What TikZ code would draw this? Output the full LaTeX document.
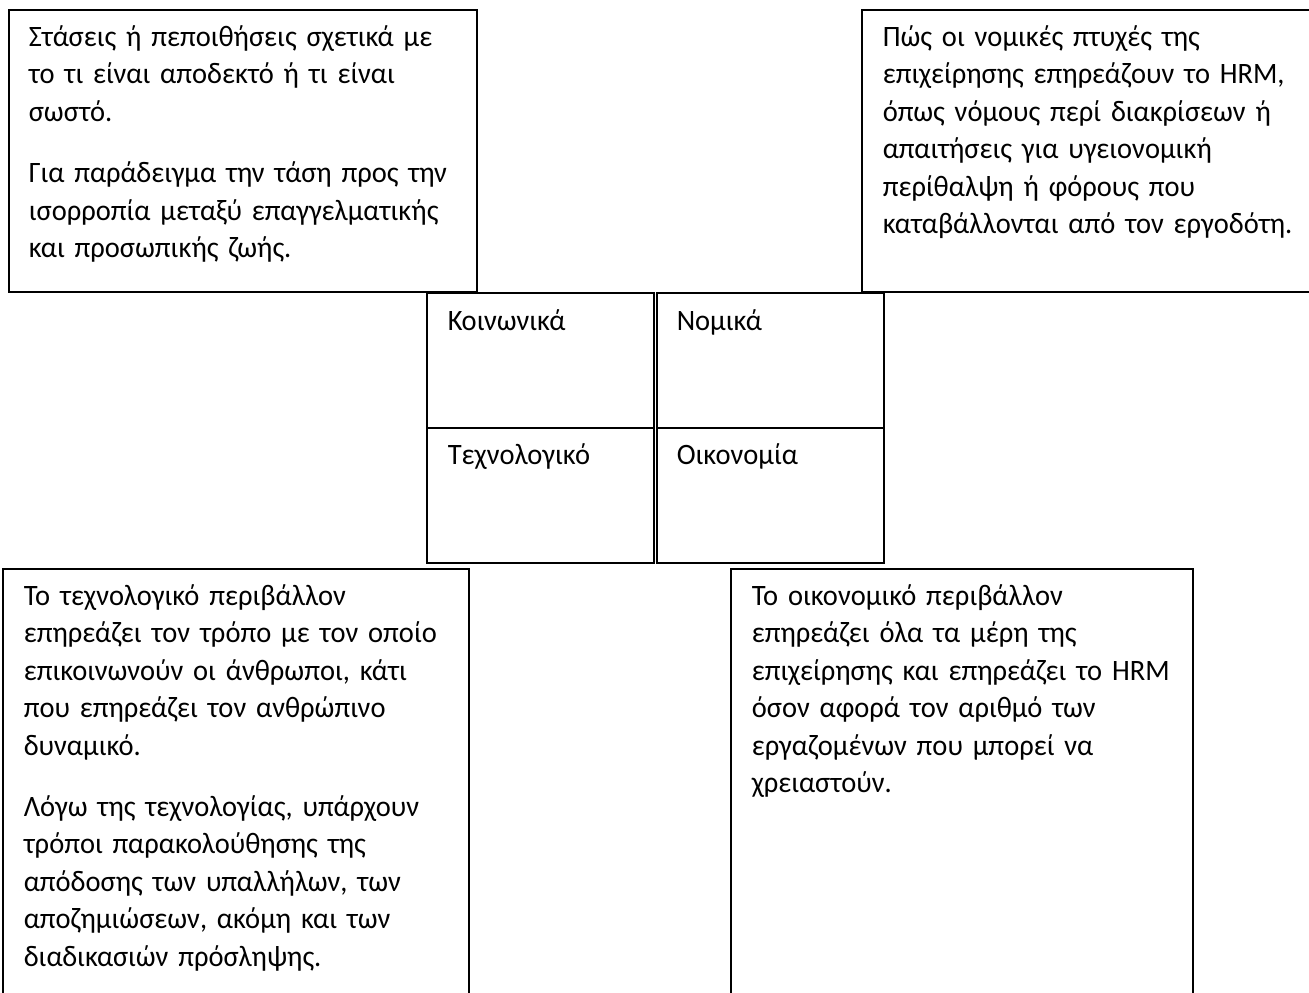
\documentclass[tikz,border=0pt]{standalone}
\usepackage{fontspec}
\setmainfont{Carlito}[FakeStretch=0.963]
\usetikzlibrary{fit}

\begin{document}
\begin{tikzpicture}[x=0.5pt,y=-0.5pt,
    box/.style={draw,line width=0.6pt,inner sep=0pt},
    txt/.style={anchor=base west,inner sep=0pt,text width=225pt,align=left,
        font=\fontsize{14.8}{18.7}\selectfont}]
\useasboundingbox (0,0) rectangle (1309,992);

% the four cells in the middle
\node (soc) [box,fit={(427,293) (654,428)}] {};
\node (leg) [box,fit={(657,293) (884,428)}] {};
\node (tec) [box,fit={(427,428) (654,563)}] {};
\node (eco) [box,fit={(657,428) (884,563)}] {};
\node (soct) [txt] at ([shift={(21,38)}]soc.north west) {Κοινωνικά};
\node (legt) [txt] at ([shift={(20,38)}]leg.north west) {Νομικά};
\node (tect) [txt] at ([shift={(21,37)}]tec.north west) {Τεχνολογικό};
\node (ecot) [txt] at ([shift={(20,37)}]eco.north west) {Οικονομία};

% the four corner boxes
\node (socd) [box,fit={(9,10) (477,292)}] {};
\node (legd) [box,fit={(862,10) (1320,292)}] {};
\node (tecd) [box,fit={(3,569) (469,1000)}] {};
\node (ecod) [box,fit={(731,569) (1193,1000)}] {};

\node (socdt) [txt] at ([shift={(20,37)}]socd.north west)
    {Στάσεις ή πεποιθήσεις σχετικά με\\
     το τι είναι αποδεκτό ή τι είναι\\
     σωστό.\\[12pt]
     Για παράδειγμα την τάση προς την\\
     ισορροπία μεταξύ επαγγελματικής\\
     και προσωπικής ζωής.};
\node (legdt) [txt] at ([shift={(21,37)}]legd.north west)
    {Πώς οι νομικές πτυχές της\\
     επιχείρησης επηρεάζουν το HRM,\\
     όπως νόμους περί διακρίσεων ή\\
     απαιτήσεις για υγειονομική\\
     περίθαλψη ή φόρους που\\
     καταβάλλονται από τον εργοδότη.};
\node (tecdt) [txt] at ([shift={(21,37)}]tecd.north west)
    {Το τεχνολογικό περιβάλλον\\
     επηρεάζει τον τρόπο με τον οποίο\\
     επικοινωνούν οι άνθρωποι, κάτι\\
     που επηρεάζει τον ανθρώπινο\\
     δυναμικό.\\[12pt]
     Λόγω της τεχνολογίας, υπάρχουν\\
     τρόποι παρακολούθησης της\\
     απόδοσης των υπαλλήλων, των\\
     αποζημιώσεων, ακόμη και των\\
     διαδικασιών πρόσληψης.};
\node (ecodt) [txt] at ([shift={(21,37)}]ecod.north west)
    {Το οικονομικό περιβάλλον\\
     επηρεάζει όλα τα μέρη της\\
     επιχείρησης και επηρεάζει το HRM\\
     όσον αφορά τον αριθμό των\\
     εργαζομένων που μπορεί να\\
     χρειαστούν.};
\end{tikzpicture}
\end{document}
